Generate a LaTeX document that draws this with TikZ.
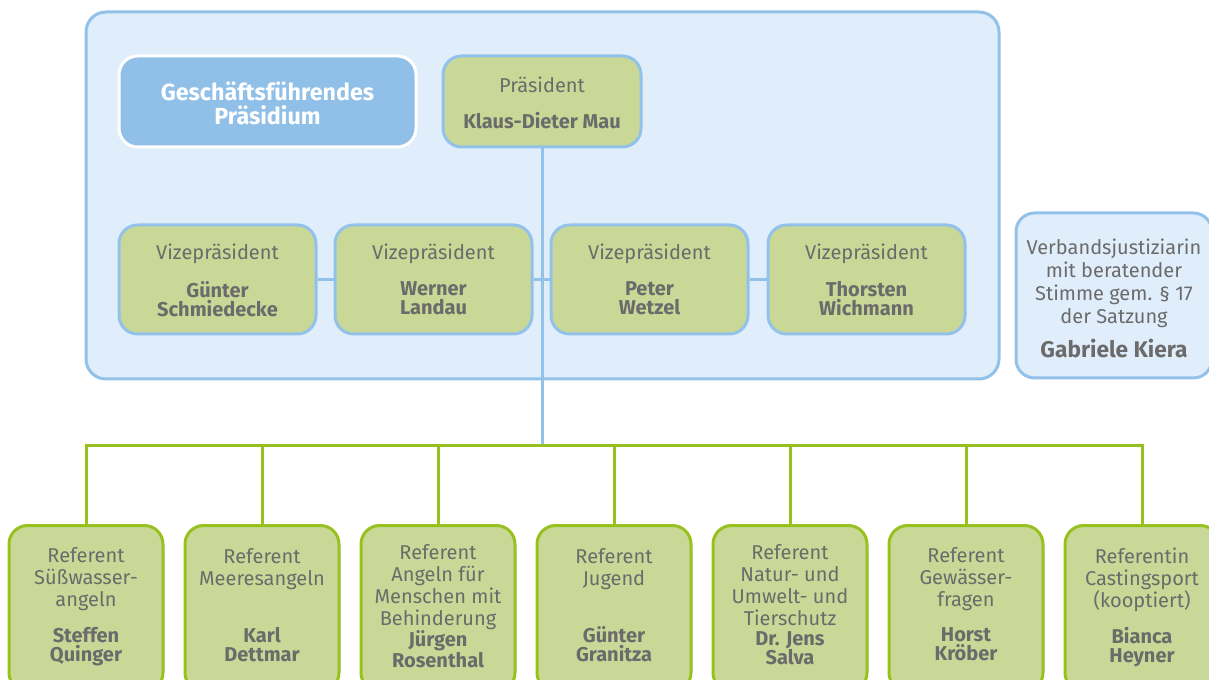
\documentclass[tikz,border=0pt]{standalone}
\usepackage{fontspec}
\setmainfont{Fira Sans}
\usetikzlibrary{positioning}

\definecolor{panelblue}{HTML}{E0EEFB}
\definecolor{lineblue}{HTML}{92C1E9}
\definecolor{gfblue}{HTML}{90C0E8}
\definecolor{refgreen}{HTML}{C9D896}
\definecolor{linegreen}{HTML}{97C11F}
\definecolor{textgray}{HTML}{6B6B6B}

\begin{document}
\begin{tikzpicture}[x=0.75pt, y=-0.75pt]
   \tikzstyle{panel}=[draw=lineblue, fill=panelblue, line width=2.25pt, rounded corners=15pt]
   \tikzstyle{box}=[rectangle, rounded corners=14pt, line width=2.25pt, inner sep=0pt]
   \tikzstyle{gfbox}=[box, draw=white, fill=gfblue, minimum width=222.75pt, minimum height=68.25pt]
   \tikzstyle{presbox}=[box, draw=lineblue, fill=refgreen, minimum width=148.5pt, minimum height=68.25pt]
   \tikzstyle{vizebox}=[box, draw=lineblue, fill=refgreen, minimum width=147.75pt, minimum height=81.75pt]
   \tikzstyle{justbox}=[box, draw=lineblue, fill=panelblue, minimum width=147pt, minimum height=123.75pt]
   \tikzstyle{refbox}=[box, draw=linegreen, fill=refgreen, minimum width=115.5pt, minimum height=124.5pt]
   \tikzstyle{role}=[anchor=north, inner sep=0pt, align=center, text=textgray, font=\fontsize{15}{16.5}\selectfont]
   \tikzstyle{who}=[anchor=north, inner sep=0pt, align=center, text=textgray, font=\fontsize{15}{14.25}\selectfont\bfseries]
   \tikzstyle{blueline}=[draw=lineblue, line width=2.25pt]
   \tikzstyle{greenline}=[draw=linegreen, line width=2.25pt]

\useasboundingbox (0,0) rectangle (1209,680);

% Präsidium
\draw[panel] (86,12) rectangle (999,379);

\node[gfbox] (gf) at (267.5,101.5) {};
\node[text=white, align=center, inner sep=0pt, font=\fontsize{17.5}{18}\selectfont\bfseries] (gftext)
   at ([yshift=-1.5pt]gf.center) {Geschäftsführendes\\Präsidium};
\node[presbox] (pres) at (542,101.5) {};
\node[role] (presrole) at ([yshift=-16.5pt]pres.north) {Präsident};
\node[who] (presname) at ([yshift=-43.5pt]pres.north) {Klaus-Dieter Mau};

\coordinate (hub) at (542,445);
\draw[blueline] (pres.south) -- (hub);

% Vizepräsidenten
\foreach \x/\name [count=\i] in {217.5/{Günter\\Schmiedecke}, 433.5/{Werner\\Landau},
                                 649.5/{Peter\\Wetzel}, 866.5/{Thorsten\\Wichmann}} {
   \node[vizebox] (vize\i) at (\x,279.5) {};
   \node[role] (vizerole\i) at ([yshift=-15pt]vize\i.north) {Vizepräsident};
   \node[who] (vizename\i) at ([yshift=-43.5pt]vize\i.north) {\name};
}
\draw[blueline] (vize1.east) -- (vize2.west);
\draw[blueline] (vize2.east) -- (vize3.west);
\draw[blueline] (vize3.east) -- (vize4.west);

% Justiziarin
\node[justbox] (just) at (1114,295.5) {};
\node[role, font=\fontsize{15}{17.25}\selectfont] (justrole) at ([yshift=-20.25pt]just.north)
   {Verbandsjustiziarin\\mit beratender\\Stimme gem. § 17\\der Satzung};
\node[who, font=\fontsize{17}{18}\selectfont\bfseries] (justname) at ([yshift=-95.25pt]just.north) {Gabriele Kiera};

% Referenten
\foreach \x/\job/\name/\up/\down [count=\i] in {
   86/{Referent\\Süßwasser-\\angeln}/{Steffen\\Quinger}/17.75/77.5,
   262/{Referent\\Meeresangeln}/{Karl\\Dettmar}/18.5/77,
   438/{Referent\\Angeln für\\Menschen mit\\Behinderung}/{Jürgen\\Rosenthal}/15.5/80,
   614/{Referent\\Jugend}/{Günter\\Granitza}/18.5/77,
   790/{Referent\\Natur- und\\Umwelt- und\\Tierschutz}/{Dr. Jens\\Salva}/15.5/80.5,
   966/{Referent\\Gewässer-\\fragen}/{Horst\\Kröber}/17.75/77.5,
   1142/{Referentin\\Castingsport\\(kooptiert)}/{Bianca\\Heyner}/17.75/77.5} {
   \draw[greenline] (hub) -| (\x,524) coordinate (top\i);
   \node[refbox, anchor=north] (ref\i) at (top\i) {};
   \node[role] (refrole\i) at ([yshift=-\up pt]ref\i.north) {\job};
   \node[who] (refname\i) at ([yshift=-\down pt]ref\i.north) {\name};
}

\end{tikzpicture}
\end{document}
